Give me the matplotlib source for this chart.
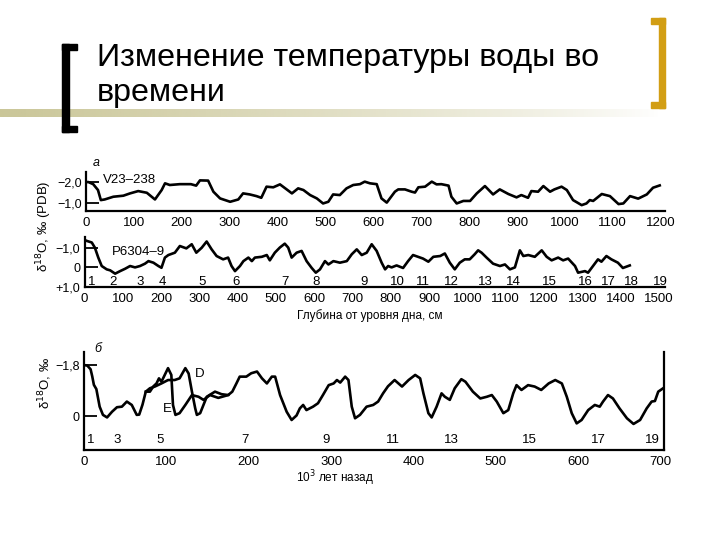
import numpy as np
import matplotlib
matplotlib.use("Agg")
import matplotlib.pyplot as plt
from matplotlib.patches import Rectangle

plt.rcParams["font.family"] = ["Liberation Sans", "DejaVu Sans"]

# --- data ---
# a) V23-238: depth (cm) vs d18O
a_depth = [0, 5, 15, 25, 31, 39, 57, 78, 92, 109, 127, 144, 158, 165, 175, 196, 219,
           230, 238, 255, 266, 280, 301, 318, 328, 342, 356, 366, 377, 391, 405, 419,
           430, 443, 454, 468, 482, 495, 506, 516, 530, 544, 558, 572, 582, 593, 607,
           617, 628, 645, 652, 666, 680, 687, 694, 708, 722, 732, 742, 757, 763, 774,
           788, 802, 816, 833, 850, 864, 882, 899, 909, 923, 930, 944, 955, 969, 978,
           993, 1004, 1017, 1035, 1045, 1052, 1059, 1077, 1094, 1112, 1122, 1136,
           1153, 1171, 1184, 1198]
a_d18o = [-2.0, -2.0, -1.9, -1.62, -1.14, -1.17, -1.3, -1.35, -1.46, -1.57, -1.49,
          -1.17, -1.62, -1.94, -1.86, -1.9, -1.9, -1.83, -2.08, -2.07, -1.54, -1.22,
          -1.06, -1.17, -1.46, -1.41, -1.33, -1.25, -1.78, -1.75, -1.89, -1.65, -1.46,
          -1.70, -1.62, -1.38, -1.22, -0.98, -1.06, -1.41, -1.38, -1.70, -1.86, -1.9,
          -2.02, -1.94, -1.9, -1.22, -1.02, -1.54, -1.65, -1.65, -1.54, -1.5, -1.75,
          -1.78, -2.02, -1.89, -1.9, -1.83, -1.3, -0.98, -1.1, -1.1, -1.46, -1.81,
          -1.41, -1.65, -1.43, -1.27, -1.38, -1.25, -1.57, -1.54, -1.81, -1.54, -1.65,
          -1.78, -1.62, -1.14, -0.9, -0.98, -1.14, -1.1, -1.43, -1.33, -0.95, -0.98,
          -1.33, -1.21, -1.41, -1.73, -1.84]

# a) P6304-9
p_depth = [0, 6, 19, 27, 36, 45, 58, 67, 80, 93, 106, 119, 132, 145, 158, 167, 180,
           193, 201, 210, 219, 236, 249, 266, 280, 292, 306, 319, 332, 345, 362, 375,
           384, 393, 406, 415, 428, 437, 445, 463, 476, 484, 497, 510, 523, 532, 541,
           554, 567, 580, 593, 604, 615, 628, 637, 650, 667, 685, 698, 711, 724, 737,
           750, 763, 776, 785, 793, 802, 815, 832, 845, 858, 871, 884, 898, 911, 929,
           941, 954, 967, 980, 993, 1006, 1019, 1028, 1037, 1050, 1067, 1085, 1098,
           1111, 1124, 1137, 1146, 1159, 1176, 1194, 1207, 1220, 1237, 1250, 1263,
           1281, 1289, 1307, 1315, 1328, 1341, 1350, 1363, 1376, 1393, 1406, 1424]
p_d18o = [-1.4, -1.35, -1.27, -1.01, -0.5, -0.07, 0.1, 0.15, 0.32, 0.19, 0.07, -0.07,
          0.0, -0.07, -0.19, -0.32, -0.24, -0.07, 0.02, -0.5, -0.63, -0.75, -1.09,
          -0.97, -1.18, -0.75, -1.0, -1.32, -0.92, -0.58, -0.41, -0.5, -0.07, 0.19,
          -0.07, -0.32, -0.5, -0.32, -0.5, -0.54, -0.63, -0.36, -0.75, -1.01, -1.21,
          -1.01, -0.5, -0.75, -0.84, -0.32, 0.02, 0.27, 0.1, -0.32, -0.15, -0.32,
          -0.24, -0.32, -0.67, -0.92, -0.63, -0.75, -1.18, -0.84, -0.24, 0.1, -0.07,
          0.0, -0.1, 0.03, -0.32, -0.63, -0.54, -0.45, -0.29, -0.54, -0.58, -0.71,
          -0.24, 0.1, -0.24, -0.41, -0.41, -0.67, -0.87, -0.75, -0.5, -0.19, -0.07,
          -0.15, 0.1, 0.0, -0.87, -0.58, -0.63, -0.54, -0.87, -0.54, -0.36, -0.5,
          -0.36, -0.45, -0.07, 0.27, 0.19, 0.27, -0.07, -0.41, -0.29, -0.58, -0.41,
          -0.24, 0.03, -0.1]
p_stage_pos = [19, 75, 145, 204, 306, 396, 523, 604, 730, 816, 885, 959, 1046, 1119,
               1214, 1307, 1368, 1429, 1503]
p_stage_lbl = [str(i) for i in range(1, 20)]

# б) age (10^3 yr) vs d18O, curve D over full record, curve E for 75-175
d_age = [0, 4, 8, 10, 12, 15, 19, 23, 28, 34, 40, 46, 52, 58, 64, 67, 71, 75, 80, 86,
         94, 102, 110, 116, 123, 127, 131, 135, 137, 141, 149, 159, 167, 175, 180, 185,
         189, 197, 203, 210, 216, 222, 228, 232, 238, 246, 252, 258, 262, 266, 270,
         278, 284, 290, 297, 303, 307, 311, 317, 321, 325, 329, 335, 343, 351, 357,
         363, 369, 377, 386, 394, 402, 408, 412, 418, 422, 428, 434, 438, 444, 450,
         458, 463, 472, 481, 489, 495, 501, 509, 515, 521, 525, 531, 539, 547, 555,
         564, 572, 580, 586, 592, 598, 604, 612, 620, 626, 630, 636, 642, 650, 659,
         667, 675, 683, 689, 693, 697, 703]
d_d18o = [-1.8, -1.78, -1.65, -1.4, -1.1, -0.95, -0.33, -0.04, 0.05, -0.15, -0.31,
          -0.33, -0.51, -0.39, -0.04, -0.05, -0.4, -0.86, -0.98, -1.04, -1.15, -1.27,
          -1.27, -1.33, -1.69, -1.5, -0.86, -0.27, -0.04, -0.1, -0.68, -0.86, -0.77,
          -0.74, -0.86, -1.15, -1.39, -1.39, -1.51, -1.57, -1.33, -1.15, -1.39, -1.39,
          -0.74, -0.15, 0.14, -0.02, -0.27, -0.39, -0.21, -0.33, -0.45, -0.74, -1.09,
          -1.15, -1.27, -1.18, -1.39, -1.27, -0.33, 0.08, -0.04, -0.33, -0.39, -0.51,
          -0.8, -1.05, -1.27, -1.04, -1.27, -1.45, -1.33, -0.8, -0.1, 0.05, -0.33,
          -0.8, -0.68, -0.57, -0.98, -1.3, -1.21, -0.86, -0.62, -0.68, -0.74, -0.51,
          -0.1, -0.21, -0.8, -1.09, -0.92, -1.09, -1.04, -0.92, -1.15, -1.27, -1.15,
          -0.68, -0.1, 0.26, 0.14, -0.21, -0.39, -0.33, -0.51, -0.74, -0.62, -0.27,
          0.08, 0.28, 0.14, -0.27, -0.51, -0.53, -0.86, -0.98]
e_age = [75, 80, 84, 88, 91, 94, 98, 102, 106, 108, 111, 116, 123, 131, 139, 145, 153,
         163, 175]
e_d18o = [-0.86, -0.86, -1.04, -1.15, -1.33, -1.21, -1.45, -1.69, -1.45, -0.39, -0.04,
          -0.1, -0.39, -0.74, -0.68, -0.57, -0.74, -0.64, -0.74]
b_stage_pos = [8, 40, 92, 195, 294, 375, 446, 541, 624, 690]
b_stage_lbl = [str(i) for i in range(1, 20, 2)]

W, H = 720, 540
fig = plt.figure(figsize=(W / 100, H / 100), dpi=100)


def px_axes(left, top, right, bottom):
    return fig.add_axes([left / W, 1 - bottom / H, (right - left) / W, (bottom - top) / H])


# slide decoration (pixel coordinates)
deco = fig.add_axes([0, 0, 1, 1])
grad = np.ones((1, 400, 4))
grad[..., 0], grad[..., 1], grad[..., 2] = 202 / 255, 198 / 255, 152 / 255
grad[0, :, 3] = np.linspace(1, 0, 400) ** 0.8
deco.imshow(grad, extent=(0, 660, 117, 109), aspect="auto", zorder=1)
deco.add_patch(Rectangle((62, 44), 7, 88, color="black", zorder=3))
deco.add_patch(Rectangle((62, 44), 15, 6, color="black", zorder=3))
deco.add_patch(Rectangle((62, 126), 15, 6, color="black", zorder=3))
gold = "#D29E14"
deco.add_patch(Rectangle((659, 18), 6, 90, color=gold, zorder=3))
deco.add_patch(Rectangle((651, 18), 14, 6, color=gold, zorder=3))
deco.add_patch(Rectangle((651, 102), 14, 6, color=gold, zorder=3))
deco.set_xlim(0, W)
deco.set_ylim(H, 0)
deco.axis("off")

deco.text(97, 66, "Изменение температуры воды во", fontsize=23.2, va="baseline")
deco.text(97, 101, "времени", fontsize=23.2, va="baseline")


def style(ax, spines=("left", "bottom")):
    for s in ax.spines:
        ax.spines[s].set_visible(s in spines)
        ax.spines[s].set_linewidth(1.6)
    ax.tick_params(axis="y", direction="in", length=9, width=1.3, pad=3, labelsize=9)
    ax.tick_params(axis="x", length=0, pad=4, labelsize=9.5)
    ax.patch.set_alpha(0)


lw = 1.9
# panel a, top
ax1 = px_axes(86, 172, 665, 211)
ax1.plot(a_depth, a_d18o, color="black", lw=lw, solid_joinstyle="round")
ax1.set_xlim(0, 1209)
ax1.set_ylim(-0.62, -2.48)
ax1.set_xticks(range(0, 1201, 100))
ax1.set_yticks([-2.0, -1.0], ["−2,0", "−1,0"])
style(ax1)
ax1.text(35, -2.1, "V23–238", fontsize=9.5, va="center")

# panel a, bottom
ax2 = px_axes(84.5, 237, 665, 287)
ax2.plot(p_depth, p_d18o, color="black", lw=lw, solid_joinstyle="round")
ax2.set_xlim(0, 1516)
ax2.set_ylim(1.0, -1.55)
ax2.set_xticks(range(0, 1501, 100))
ax2.set_yticks([-1.0, 0, 1.0], ["−1,0", "0", "+1,0"])
style(ax2)
ax2.text(72, -0.77, "P6304–9", fontsize=9.5, va="center")
for pos, lbl in zip(p_stage_pos, p_stage_lbl):
    ax2.text(pos, 0.72, lbl, fontsize=9.5, ha="center", va="center")

fig.text(44 / W, 1 - 226 / H, "δ$^{18}$O, ‰ (PDB)", rotation=90, fontsize=9.5,
         ha="center", va="center")
fig.text(370 / W, 1 - 316 / H, "Глубина от уровня дна, см", fontsize=8.5,
         ha="center", va="center")
fig.text(96 / W, 1 - 163 / H, "а", fontsize=9, style="italic", ha="center", va="center")

# panel б
ax3 = px_axes(84, 352, 664, 450)
ax3.plot(d_age, d_d18o, color="black", lw=lw, solid_joinstyle="round")
ax3.plot(e_age, e_d18o, color="black", lw=lw, solid_joinstyle="round")
ax3.set_xlim(0, 704)
ax3.set_ylim(1.2, -2.26)
ax3.set_xticks(range(0, 701, 100))
ax3.set_xticks(range(100, 601, 100), minor=True)
ax3.set_yticks([-1.8, 0], ["−1,8", "0"])
style(ax3, ("left", "bottom", "right"))
ax3.tick_params(axis="x", which="minor", direction="in", length=8.5, width=1.3)
ax3.text(140, -1.48, "D", fontsize=9.5, ha="center", va="center")
ax3.text(101, -0.25, "E", fontsize=9.5, ha="center", va="center")
for pos, lbl in zip(b_stage_pos, b_stage_lbl):
    ax3.text(pos, 0.85, lbl, fontsize=9.5, ha="center", va="center")

fig.text(45 / W, 1 - 383 / H, "δ$^{18}$O, ‰", rotation=90, fontsize=9.5,
         ha="center", va="center")
fig.text(335 / W, 1 - 478 / H, "10$^{3}$ лет назад", fontsize=8.5,
         ha="center", va="center")
fig.text(98 / W, 1 - 349 / H, "б", fontsize=9, style="italic", ha="center", va="center")

fig.savefig("out.png", dpi=100)
